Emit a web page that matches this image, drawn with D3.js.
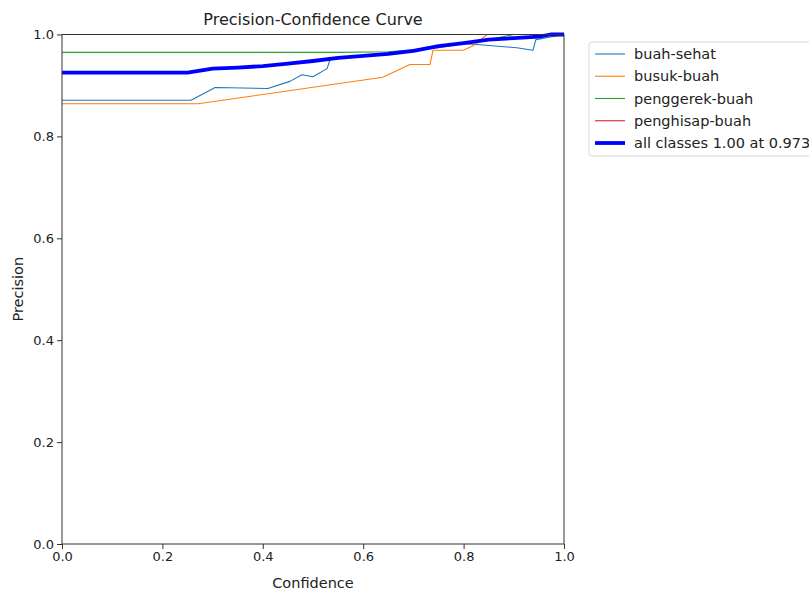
<!DOCTYPE html>
<html>
<head>
<meta charset="utf-8">
<script src="https://cdn.jsdelivr.net/npm/d3@7"></script>
<style>
  html, body { margin: 0; padding: 0; background: #fff; }
  svg { display: block; font-family: "DejaVu Sans", sans-serif; }
</style>
</head>
<body>
<svg id="chart" width="809" height="591"></svg>
<script>
// ---- data ----
const seriesNames = ["buah-sehat", "busuk-buah", "penggerek-buah", "penghisap-buah", "all classes 1.00 at 0.973"];

const buahSehatX = [0, 0.257, 0.305, 0.41, 0.454, 0.478, 0.50, 0.528, 0.534, 0.60, 0.70, 0.75, 0.80, 0.833, 0.906, 0.938, 0.944, 1.0];
const buahSehatY = [0.871, 0.871, 0.896, 0.894, 0.908, 0.921, 0.917, 0.933, 0.951, 0.958, 0.966, 0.976, 0.982, 0.980, 0.974, 0.969, 0.990, 1.0];

const busukBuahX = [0, 0.271, 0.639, 0.693, 0.733, 0.739, 0.799, 0.819, 0.847, 1.0];
const busukBuahY = [0.864, 0.864, 0.916, 0.941, 0.941, 0.969, 0.969, 0.978, 1.0, 1.0];

const penggerekX = [0, 0.55, 0.65, 0.75, 0.85, 0.90, 1.0];
const penggerekY = [0.965, 0.965, 0.966, 0.974, 0.990, 1.0, 1.0];

const penghisapX = [0, 1.0];
const penghisapY = [1.0, 1.0];

const allX = [0, 0.25, 0.30, 0.35, 0.40, 0.45, 0.50, 0.55, 0.60, 0.65, 0.70, 0.75, 0.80, 0.85, 0.90, 0.95, 0.973, 1.0];
const allY = [0.925, 0.925, 0.933, 0.935, 0.938, 0.943, 0.948, 0.954, 0.958, 0.962, 0.968, 0.977, 0.983, 0.990, 0.993, 0.996, 1.0, 1.0];

const xTicks = [0, 0.2, 0.4, 0.6, 0.8, 1.0];
const yTicks = [0, 0.2, 0.4, 0.6, 0.8, 1.0];

// ---- layout ----
(function () {
const svg = d3.select("#chart");
const mLeft = 62, mRight = 564, mTop = 34.5, mBottom = 544;
const x = d3.scaleLinear().domain([0, 1]).range([mLeft, mRight]);
const y = d3.scaleLinear().domain([0, 1]).range([mBottom, mTop]);

const series = [
  { name: seriesNames[0], xs: buahSehatX, ys: buahSehatY, color: "#1f77b4", w: 1.1 },
  { name: seriesNames[1], xs: busukBuahX, ys: busukBuahY, color: "#ff7f0e", w: 1.1 },
  { name: seriesNames[2], xs: penggerekX, ys: penggerekY, color: "#2ca02c", w: 1.1 },
  { name: seriesNames[3], xs: penghisapX, ys: penghisapY, color: "#d62728", w: 1.1 },
  { name: seriesNames[4], xs: allX, ys: allY, color: "#0000ff", w: 3.8 }
];

const line = d3.line().x(d => x(d[0])).y(d => y(d[1]));

svg.append("defs").append("clipPath").attr("id", "clip")
  .append("rect").attr("x", mLeft).attr("y", mTop - 3).attr("width", mRight - mLeft).attr("height", mBottom - mTop + 3);

const g = svg.append("g").attr("clip-path", "url(#clip)");
series.forEach(s => {
  g.append("path")
    .datum(s.xs.map((v, i) => [v, s.ys[i]]))
    .attr("d", line)
    .attr("fill", "none")
    .attr("stroke", s.color)
    .attr("stroke-width", s.w)
    .attr("stroke-linejoin", "round")
    .attr("stroke-linecap", "butt");
});

// spines
svg.append("rect").attr("x", mLeft).attr("y", mTop).attr("width", mRight - mLeft).attr("height", mBottom - mTop)
  .attr("fill", "none").attr("stroke", "#333").attr("stroke-width", 1);

// axes
const xAxis = d3.axisBottom(x).tickValues(xTicks).tickFormat(d3.format(".1f")).tickSize(5).tickPadding(3);
const yAxis = d3.axisLeft(y).tickValues(yTicks).tickFormat(d3.format(".1f")).tickSize(5).tickPadding(3);

const gx = svg.append("g").attr("transform", `translate(0,${mBottom})`).call(xAxis);
const gy = svg.append("g").attr("transform", `translate(${mLeft},0)`).call(yAxis);
[gx, gy].forEach(a => {
  a.select(".domain").remove();
  a.selectAll("line").attr("stroke", "#333");
  a.selectAll("text").attr("fill", "#222").style("font-size", "13px").style("font-family", "DejaVu Sans, sans-serif");
});

// title and labels
svg.append("text").attr("x", (mLeft + mRight) / 2).attr("y", 25).attr("text-anchor", "middle")
  .style("font-size", "16px").attr("fill", "#222").text("Precision-Confidence Curve");
svg.append("text").attr("x", (mLeft + mRight) / 2).attr("y", 588).attr("text-anchor", "middle")
  .style("font-size", "14.5px").attr("fill", "#222").text("Confidence");
svg.append("text").attr("transform", `translate(23,${(mTop + mBottom) / 2}) rotate(-90)`).attr("text-anchor", "middle")
  .style("font-size", "14.5px").attr("fill", "#222").text("Precision");

// legend
const lg = svg.append("g");
lg.append("rect").attr("x", 589).attr("y", 42).attr("width", 240).attr("height", 114).attr("rx", 3)
  .attr("fill", "#fff").attr("stroke", "#d8d8d8").attr("stroke-width", 1);
const legendY = d3.scaleLinear().domain([0, 4]).range([54, 143]);
series.forEach((s, i) => {
  const yy = legendY(i);
  lg.append("line").attr("x1", 595).attr("x2", 625).attr("y1", yy).attr("y2", yy)
    .attr("stroke", s.color).attr("stroke-width", s.w);
  lg.append("text").attr("x", 634).attr("y", yy).attr("dy", "0.35em")
    .style("font-size", "14.5px").attr("fill", "#222").text(s.name);
});
})();
</script>
</body>
</html>
